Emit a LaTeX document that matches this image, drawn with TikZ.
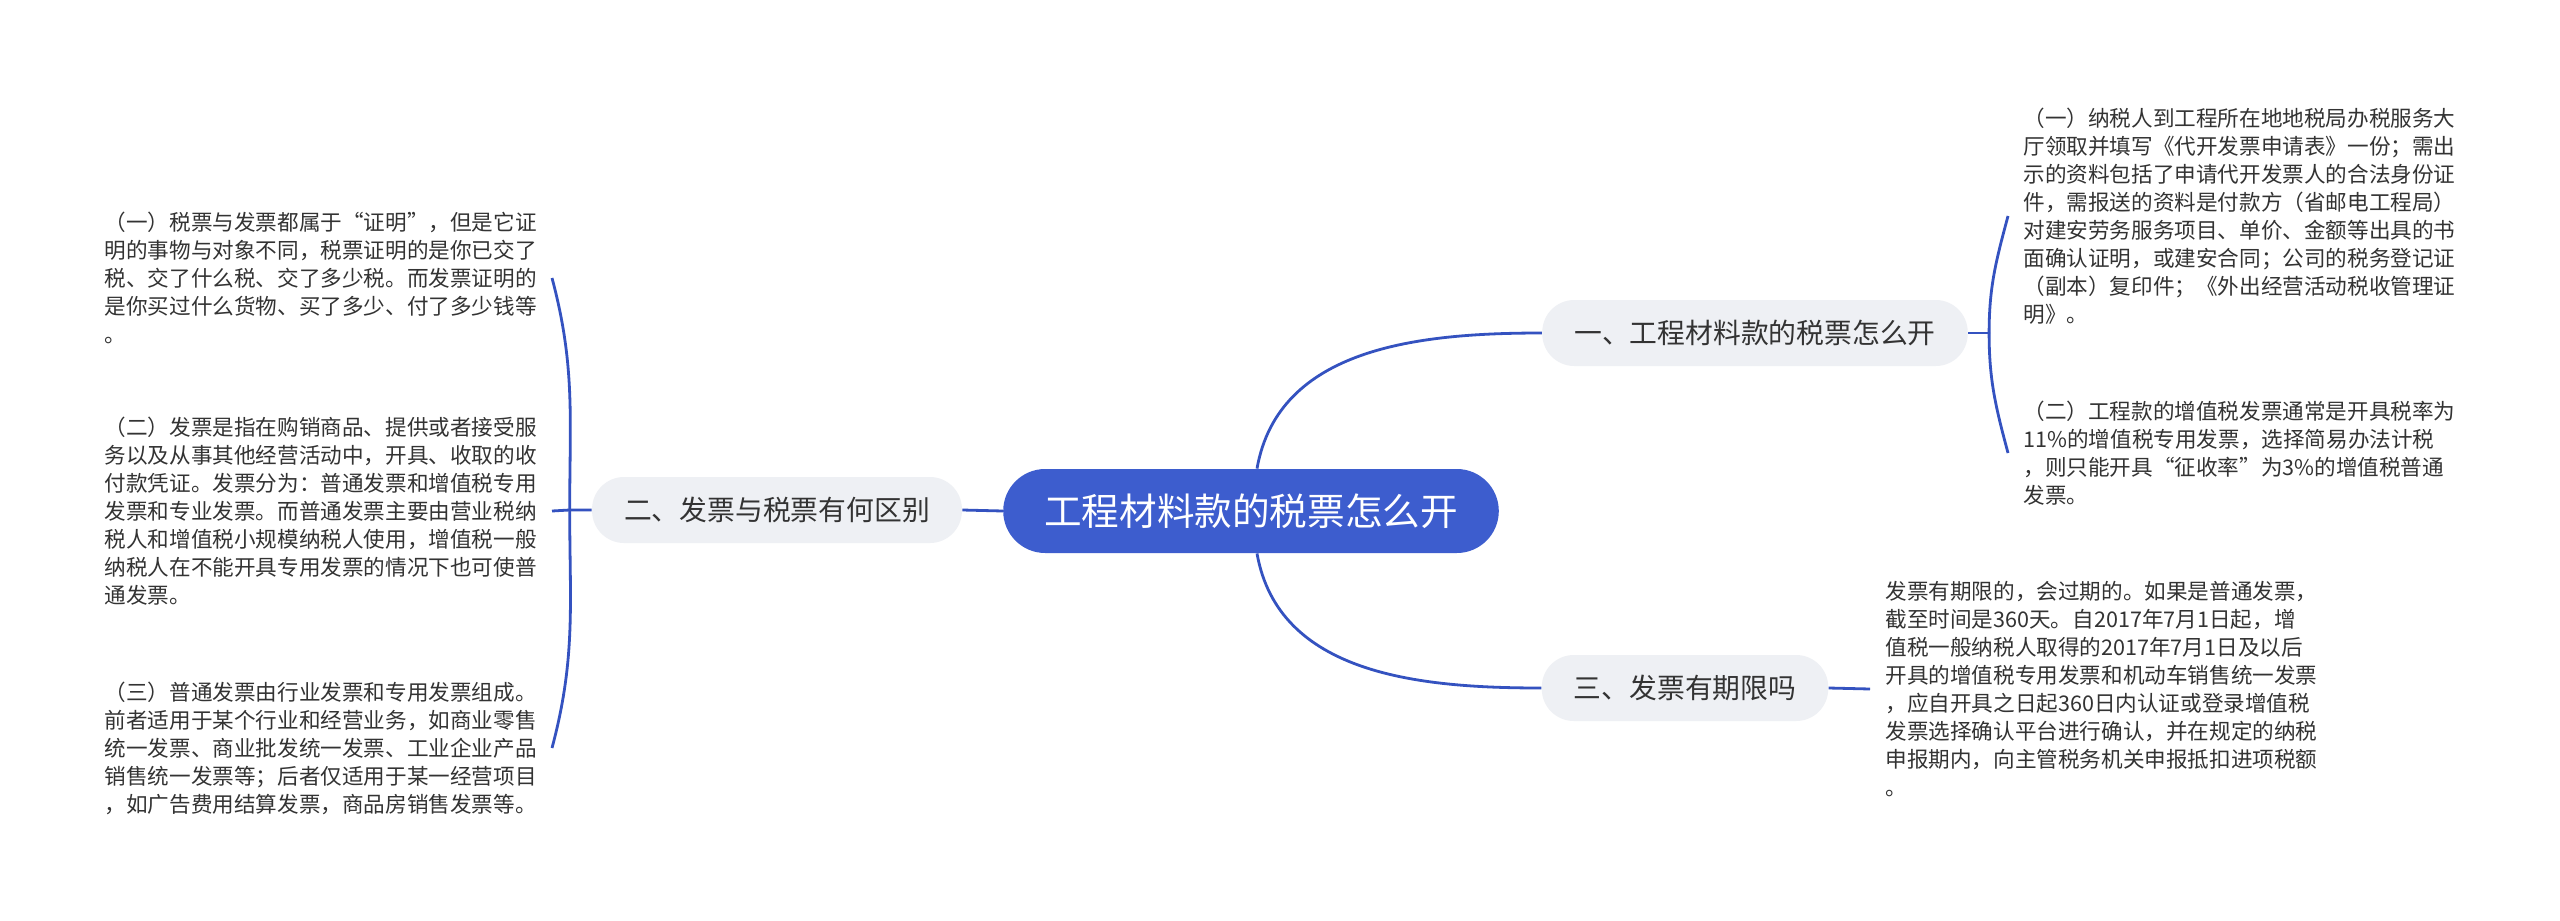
\documentclass[tikz,border=0pt]{standalone}
\usepackage{fontspec}
\setmainfont{Noto Sans CJK SC}
\usepackage{xcolor}
\usetikzlibrary{positioning}
\definecolor{mainblue}{RGB}{61,93,206}
\definecolor{linkblue}{RGB}{52,82,192}
\definecolor{branchgray}{RGB}{238,240,244}
\definecolor{textgray}{RGB}{51,51,51}

\begin{document}
\begin{tikzpicture}[
  x=0.5pt, y=-0.5pt,
  every node/.style={text=textgray},
  rootbox/.style={rectangle, fill=mainblue, text=white, rounded corners=21pt,
                  font=\fontsize{18.8}{21}\selectfont, minimum height=42pt, inner xsep=20.5pt},
  branchbox/.style={rectangle, fill=branchgray, rounded corners=16pt,
                    font=\fontsize{13.9}{16}\selectfont, minimum height=33pt, inner xsep=16pt},
  leafbox/.style={align=left, font=\fontsize{10.8}{14}\selectfont, inner xsep=7.5pt, inner ysep=2pt},
  link/.style={draw=linkblue, line width=1.4pt}
]
  \fill[white] (0,0) rectangle (2560,921);
  \useasboundingbox (0,0) rectangle (2560,921);

  \node[rootbox] (root) at (1251,511) {工程材料款的税票怎么开};
  \node[branchbox] (b1) at (1755,333) {一、工程材料款的税票怎么开};
  \node[branchbox] (b2) at (777,510)  {二、发票与税票有何区别};
  \node[branchbox] (b3) at (1685,688) {三、发票有期限吗};

  \node[leafbox, anchor=west] (l11) at (2008,216) {（一）纳税人到工程所在地地税局办税服务大\\
厅领取并填写《代开发票申请表》一份；需出\\
示的资料包括了申请代开发票人的合法身份证\\
件，需报送的资料是付款方（省邮电工程局）\\
对建安劳务服务项目、单价、金额等出具的书\\
面确认证明，或建安合同；公司的税务登记证\\
（副本）复印件；《外出经营活动税收管理证\\
明》。};
  \node[leafbox, anchor=west] (l12) at (2008,453) {（二）工程款的增值税发票通常是开具税率为\\
11\%的增值税专用发票，选择简易办法计税\\
，则只能开具“征收率”为3\%的增值税普通\\
发票。};
  \node[leafbox, anchor=east] (l21) at (552,278) {（一）税票与发票都属于“证明”，但是它证\\
明的事物与对象不同，税票证明的是你已交了\\
税、交了什么税、交了多少税。而发票证明的\\
是你买过什么货物、买了多少、付了多少钱等\\
。};
  \node[leafbox, anchor=east] (l22) at (552,511) {（二）发票是指在购销商品、提供或者接受服\\
务以及从事其他经营活动中，开具、收取的收\\
付款凭证。发票分为：普通发票和增值税专用\\
发票和专业发票。而普通发票主要由营业税纳\\
税人和增值税小规模纳税人使用，增值税一般\\
纳税人在不能开具专用发票的情况下也可使普\\
通发票。};
  \node[leafbox, anchor=east] (l23) at (552,748) {（三）普通发票由行业发票和专用发票组成。\\
前者适用于某个行业和经营业务，如商业零售\\
统一发票、商业批发统一发票、工业企业产品\\
销售统一发票等；后者仅适用于某一经营项目\\
，如广告费用结算发票，商品房销售发票等。};
  \node[leafbox, anchor=west] (l31) at (1870,689) {发票有期限的，会过期的。如果是普通发票，\\
截至时间是360天。自2017年7月1日起，增\\
值税一般纳税人取得的2017年7月1日及以后\\
开具的增值税专用发票和机动车销售统一发票\\
，应自开具之日起360日内认证或登录增值税\\
发票选择确认平台进行确认，并在规定的纳税\\
申报期内，向主管税务机关申报抵扣进项税额\\
。};

  \draw[link] (root.west) -- (b2.east);
  \draw[link] ([xshift=3pt]root.north) to[out=80,in=180] (b1.west);
  \draw[link] ([xshift=3pt]root.south) to[out=-80,in=180] (b3.west);

  \draw[link] (b2.west) -- ++(-11pt,0) coordinate (j2) -- (l22.east);
  \draw[link] (j2) to[out=90,in=-75] (l21.east);
  \draw[link] (j2) to[out=-90,in=75] (l23.east);

  \draw[link] (b1.east) -- ++(10.5pt,0) coordinate (j1);
  \draw[link] (j1) to[out=90,in=-105] (l11.west);
  \draw[link] (j1) to[out=-90,in=105] (l12.west);

  \draw[link] (b3.east) -- (l31.west);
\end{tikzpicture}
\end{document}
